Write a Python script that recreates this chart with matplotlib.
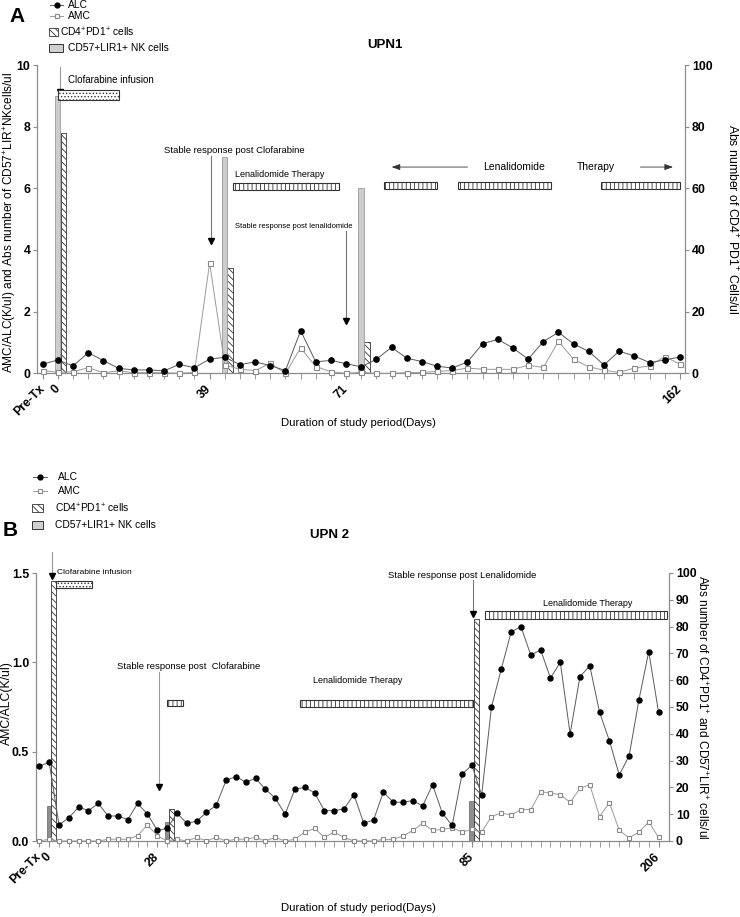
import matplotlib
matplotlib.use('Agg')
import matplotlib.pyplot as plt
from matplotlib.lines import Line2D
from matplotlib.patches import Rectangle
import numpy as np

plt.rcParams['font.family'] = ['Liberation Sans', 'DejaVu Sans']
plt.rcParams['mathtext.fontset'] = 'custom'
plt.rcParams['mathtext.rm'] = 'Liberation Sans'
plt.rcParams['mathtext.it'] = 'Liberation Sans:italic'
plt.rcParams['mathtext.bf'] = 'Liberation Sans:bold'
plt.rcParams['hatch.linewidth'] = 0.6

# ---------------- DATA ----------------
# Panel A (UPN1): 43 sampling points
upn1_alc = [0.30, 0.43, 0.24, 0.67, 0.41, 0.16, 0.11, 0.11, 0.08, 0.29, 0.18, 0.46, 0.52,
            0.28, 0.37, 0.25, 0.09, 1.38, 0.37, 0.42, 0.31, 0.21, 0.46, 0.84, 0.49, 0.38,
            0.23, 0.17, 0.37, 0.96, 1.10, 0.82, 0.46, 1.03, 1.33, 0.95, 0.71, 0.27, 0.72,
            0.56, 0.35, 0.43, 0.53]
upn1_amc = [0.09, 0.03, 0.05, 0.18, 0.02, 0.08, 0.02, 0.02, 0.02, 0.00, 0.03, 3.58, 0.27,
            0.13, 0.09, 0.32, 0.00, 0.82, 0.22, 0.05, 0.00, 0.03, 0.00, 0.00, 0.02, 0.03,
            0.06, 0.09, 0.17, 0.13, 0.13, 0.13, 0.26, 0.19, 1.04, 0.45, 0.21, 0.10, 0.03,
            0.17, 0.24, 0.54, 0.30]
upn1_bar_idx = [1, 12, 21]
upn1_nk = [9.0, 7.0, 6.0]          # CD57+LIR1+ NK cells (left axis)
upn1_pd1 = [78, 34, 10]            # CD4+PD1+ cells (right axis)
upn1_tick_idx = [0, 1, 11, 20, 42]
upn1_tick_lab = ['Pre-Tx', '0', '39', '71', '162']

# Panel B (UPN 2): 64 sampling points
upn2_alc = [0.42, 0.44, 0.09, 0.13, 0.19, 0.17, 0.21, 0.14, 0.14, 0.12, 0.21, 0.15, 0.06,
            0.07, 0.155, 0.10, 0.11, 0.16, 0.20, 0.34, 0.36, 0.33, 0.35, 0.29, 0.24, 0.15,
            0.29, 0.30, 0.27, 0.17, 0.17, 0.18, 0.26, 0.10, 0.117, 0.274, 0.217, 0.217,
            0.226, 0.196, 0.315, 0.156, 0.087, 0.374, 0.424, 0.257, 0.75, 0.963, 1.17,
            1.20, 1.04, 1.07, 0.912, 1.00, 0.60, 0.92, 0.98, 0.72, 0.56, 0.37, 0.476,
            0.79, 1.06, 0.72]
upn2_amc = [0.0, 0.01, 0.0, 0.0, 0.0, 0.0, 0.0, 0.01, 0.01, 0.01, 0.03, 0.09, 0.03, 0.0,
            0.01, 0.0, 0.02, 0.0, 0.02, 0.0, 0.01, 0.01, 0.02, 0.0, 0.02, 0.0, 0.01, 0.05,
            0.07, 0.02, 0.05, 0.02, 0.0, 0.0, 0.0, 0.009, 0.009, 0.028, 0.059, 0.10, 0.059,
            0.065, 0.074, 0.05, 0.065, 0.05, 0.137, 0.157, 0.146, 0.176, 0.176, 0.276,
            0.268, 0.259, 0.217, 0.294, 0.315, 0.137, 0.215, 0.059, 0.018, 0.05, 0.107, 0.02]
upn2_bar_idx = [1, 13, 44]
upn2_nk = [13, 7, 15]              # CD57+LIR1+ NK cells (right axis)
upn2_pd1 = [97, 12, 83]            # CD4+PD1+ cells (right axis)
upn2_tick_idx = [0, 1, 12, 44, 63]
upn2_tick_lab = ['Pre-Tx', '0', '28', '85', '206']

# ---------------- STYLE ----------------
W, H = 740, 917
fig = plt.figure(figsize=(W / 100, H / 100), dpi=100)


def fx(x):
    return x / W


def fy(y):
    return 1 - y / H


SPINE = '#8c8c8c'
ALC_LINE = '#5a5a5a'
AMC_LINE = '#9a9a9a'
TXT = 8.8
ANN = 6.5
LEG = 7.4


def style_axes(ax, ax2, n, tick_idx, tick_lab):
    for a in (ax, ax2):
        a.spines['top'].set_visible(False)
        for s in ('left', 'right', 'bottom'):
            a.spines[s].set_color(SPINE)
            a.spines[s].set_linewidth(0.9)
    ax.spines['right'].set_visible(False)
    ax2.spines['left'].set_visible(False)
    ax2.spines['bottom'].set_visible(False)
    ax.set_xticks(np.arange(n), minor=True)
    ax.set_xticks(tick_idx)
    ax.set_xticklabels(tick_lab, rotation=45, ha='right', va='center',
                       rotation_mode='anchor', fontweight='bold', fontsize=TXT)
    ax.tick_params(axis='x', which='both', length=4, color=SPINE, pad=6)
    ax.tick_params(axis='y', length=3, color=SPINE, labelsize=TXT, pad=2)
    ax2.tick_params(axis='y', length=3, color=SPINE, labelsize=TXT, pad=2)
    for lab in ax.get_yticklabels() + ax2.get_yticklabels():
        lab.set_fontweight('bold')
    ax.set_zorder(ax2.get_zorder() + 1)
    ax.patch.set_visible(False)


def draw_series(ax, alc, amc, ms_c=3.8, ms_s=3.6):
    x = np.arange(len(alc))
    ax.plot(x, amc, color=AMC_LINE, lw=0.7, marker='s', ms=ms_s, mfc='white',
            mec='#8a8a8a', mew=0.8, zorder=4, clip_on=False)
    ax.plot(x, alc, color=ALC_LINE, lw=0.7, marker='o', ms=ms_c, mfc='black',
            mec='black', zorder=5, clip_on=False)


def down_arrow(ax, x, y0, y1, color='#9a9a9a', ms=4.5):
    ax.plot([x, x], [y0, y1], color=color, lw=0.8, clip_on=False, zorder=6)
    ax.plot([x], [y1], marker='v', color='black', ms=ms, clip_on=False, zorder=6)


def therapy_box(ax, x0, x1, y0, y1, hatch='||||'):
    ax.add_patch(Rectangle((x0, y0), x1 - x0, y1 - y0, facecolor='white',
                           edgecolor='#333333', hatch=hatch, lw=0.8, zorder=6,
                           clip_on=False))


def legend_block(xl, rows, patch_w):
    for kind, y, lab, tx in rows:
        if kind == 'alc':
            fig.add_artist(Line2D([fx(xl), fx(xl + patch_w)], [fy(y), fy(y)],
                                  color=ALC_LINE, lw=0.7))
            fig.add_artist(Line2D([fx(xl + patch_w / 2)], [fy(y)], marker='o',
                                  ms=3.5, color='black'))
        elif kind == 'amc':
            fig.add_artist(Line2D([fx(xl), fx(xl + patch_w)], [fy(y), fy(y)],
                                  color=AMC_LINE, lw=0.7))
            fig.add_artist(Line2D([fx(xl + patch_w / 2)], [fy(y)], marker='s',
                                  ms=3.3, mfc='white', mec='#8a8a8a', mew=0.8))
        elif kind == 'pd1':
            fig.add_artist(Rectangle((fx(xl), fy(y + 4)), fx(patch_w), 8 / H,
                                     facecolor='white', edgecolor='#333333',
                                     hatch='\\\\\\\\\\', lw=0.6,
                                     transform=fig.transFigure))
        elif kind == 'nk':
            fig.add_artist(Rectangle((fx(xl), fy(y + 4)), fx(patch_w), 8 / H,
                                     facecolor='#d0d0d0', edgecolor='#333333',
                                     lw=0.7, transform=fig.transFigure))
        fig.text(fx(tx), fy(y), lab, fontsize=LEG, va='center', ha='left')


# ================= PANEL A =================
axA = fig.add_axes([fx(37.3), fy(373.3), fx(685) - fx(37.3), (373.3 - 65) / H])
axA2 = axA.twinx()
nA = len(upn1_alc)
axA.set_xlim(-0.36, nA - 1 + 0.34)
axA.set_ylim(0, 10)
axA2.set_ylim(0, 100)
axA.set_yticks([0, 2, 4, 6, 8, 10])
axA2.set_yticks([0, 20, 40, 60, 80, 100])
style_axes(axA, axA2, nA, upn1_tick_idx, upn1_tick_lab)

bxA = np.array(upn1_bar_idx, dtype=float)
axA.bar(bxA - 0.03, upn1_nk, width=0.36, color='#cdcdcd', edgecolor='#9a9a9a',
        lw=0.6, zorder=2)
axA2.bar(bxA + 0.36, upn1_pd1, width=0.38, color='white', edgecolor='#333333',
         hatch='\\\\\\\\\\', lw=0.6, zorder=2)
draw_series(axA, upn1_alc, upn1_amc)

# annotations A
down_arrow(axA, 1.14, 9.95, 9.12)
axA.text(1.67, 9.5, 'Clofarabine infusion', fontsize=ANN + 0.5, va='center')
therapy_box(axA, 1.0, 5.0, 8.88, 9.19, hatch='.....')
axA.text(12.6, 7.24, 'Stable response post Clofarabine', fontsize=6.8, ha='center',
         va='center')
down_arrow(axA, 11.07, 7.05, 4.3, color='#777777')
axA.text(12.68, 6.46, 'Lenalidomide Therapy', fontsize=ANN, va='center')
therapy_box(axA, 12.54, 19.53, 5.95, 6.18)
axA.text(12.68, 4.75, 'Stable response post lenalidomide', fontsize=ANN - 1.0,
         va='center')
down_arrow(axA, 19.97, 4.6, 1.7, color='#777777')
axA.annotate('', xy=(23.0, 6.69), xytext=(28.0, 6.69),
             arrowprops=dict(arrowstyle='-|>,head_length=0.5,head_width=0.18',
                             color='#333333', lw=0.6, shrinkA=0, shrinkB=0))
axA.text(29.0, 6.69, 'Lenalidomide', fontsize=7.5, va='center')
axA.text(35.2, 6.69, 'Therapy', fontsize=7.5, va='center')
axA.annotate('', xy=(41.55, 6.69), xytext=(39.4, 6.69),
             arrowprops=dict(arrowstyle='-|>,head_length=0.5,head_width=0.18',
                             color='#333333', lw=0.6, shrinkA=0, shrinkB=0))
therapy_box(axA, 22.5, 26.0, 5.98, 6.2)
therapy_box(axA, 27.4, 33.5, 5.98, 6.2)
therapy_box(axA, 36.8, 42.0, 5.98, 6.2)

fig.text(fx(9.5), fy(222), 'AMC/ALC(K/ul) and Abs number of CD57$^{+}$LIR$^{+}$NKcells/ul',
         rotation=90, ha='center', va='center', fontsize=8.6)
fig.text(fx(732), fy(219), 'Abs number of CD4$^{+}$ PD1$^{+}$ Cells/ul', rotation=-90,
         ha='center', va='center', fontsize=8.8)
fig.text(fx(358), fy(423), 'Duration of study period(Days)', ha='center', va='center',
         fontsize=8.2)
fig.text(fx(385), fy(45), 'UPN1', ha='center', va='center', fontsize=9.5,
         fontweight='bold')
fig.text(fx(17), fy(17), 'A', ha='center', va='center', fontsize=15, fontweight='bold')

legend_block(50, [('alc', 5, 'ALC', 68), ('amc', 16, 'AMC', 68)], 13)
legend_block(49, [('pd1', 32, 'CD4$^{+}$PD1$^{+}$ cells', 60)], 9)
legend_block(49, [('nk', 48, 'CD57+LIR1+ NK cells', 68)], 14)

# ================= PANEL B =================
axB = fig.add_axes([fx(36), fy(841), fx(669) - fx(36), (841 - 573) / H])
axB2 = axB.twinx()
nB = len(upn2_alc)
axB.set_xlim(-0.34, nB - 1 + 1.06)
axB.set_ylim(0, 1.5)
axB2.set_ylim(0, 100)
axB.set_yticks([0.0, 0.5, 1.0, 1.5])
axB.set_yticklabels(['0.0', '0.5', '1.0', '1.5'])
axB2.set_yticks(np.arange(0, 101, 10))
style_axes(axB, axB2, nB, upn2_tick_idx, upn2_tick_lab)

bxB = np.array(upn2_bar_idx, dtype=float)
axB2.bar(bxB - 0.02, upn2_nk, width=0.46, color='#8e8e8e', edgecolor='#666666',
         lw=0.5, zorder=2)
axB2.bar(bxB + 0.45, upn2_pd1, width=0.48, color='white', edgecolor='#333333',
         hatch='\\\\\\\\\\', lw=0.6, zorder=2)
draw_series(axB, upn2_alc, upn2_amc, ms_c=3.6, ms_s=3.3)

# annotations B
down_arrow(axB, 1.26, 1.62, 1.485)
axB.text(1.8, 1.503, 'Clofarabine infusion', fontsize=6.0, va='center')
therapy_box(axB, 1.7, 5.36, 1.417, 1.453, hatch='.....')
axB.text(15.18, 0.975, 'Stable response post  Clofarabine', fontsize=6.8,
         ha='center', va='center')
down_arrow(axB, 12.2, 0.945, 0.305)
therapy_box(axB, 13.0, 14.6, 0.755, 0.79)
axB.text(27.84, 0.898, 'Lenalidomide Therapy', fontsize=ANN, va='center')
therapy_box(axB, 26.5, 44.1, 0.75, 0.79)
axB.text(43.0, 1.486, 'Stable response post Lenalidomide', fontsize=6.8,
         ha='center', va='center')
down_arrow(axB, 44.15, 1.462, 1.27, color='#777777')
axB.text(51.2, 1.328, 'Lenalidomide Therapy', fontsize=ANN, va='center')
therapy_box(axB, 45.3, 63.9, 1.242, 1.285)

fig.text(fx(7), fy(703), 'AMC/ALC(K/ul)', rotation=90, ha='center', va='center',
         fontsize=8.8)
fig.text(fx(702), fy(707), 'Abs number of CD4$^{+}$PD1$^{+}$ and CD57$^{+}$LIR$^{+}$ cells/ul',
         rotation=-90, ha='center', va='center', fontsize=8.6)
fig.text(fx(358), fy(908), 'Duration of study period(Days)', ha='center', va='center',
         fontsize=8.2)
fig.text(fx(330), fy(535), 'UPN 2', ha='center', va='center', fontsize=9.5,
         fontweight='bold')
fig.text(fx(10), fy(530), 'B', ha='center', va='center', fontsize=15, fontweight='bold')

legend_block(33, [('alc', 477, 'ALC', 58), ('amc', 491, 'AMC', 58)], 14)
legend_block(32, [('pd1', 508, 'CD4$^{+}$PD1$^{+}$ cells', 55)], 11)
legend_block(32, [('nk', 525, 'CD57+LIR1+ NK cells', 55)], 11)

fig.savefig('out.png', dpi=100)
